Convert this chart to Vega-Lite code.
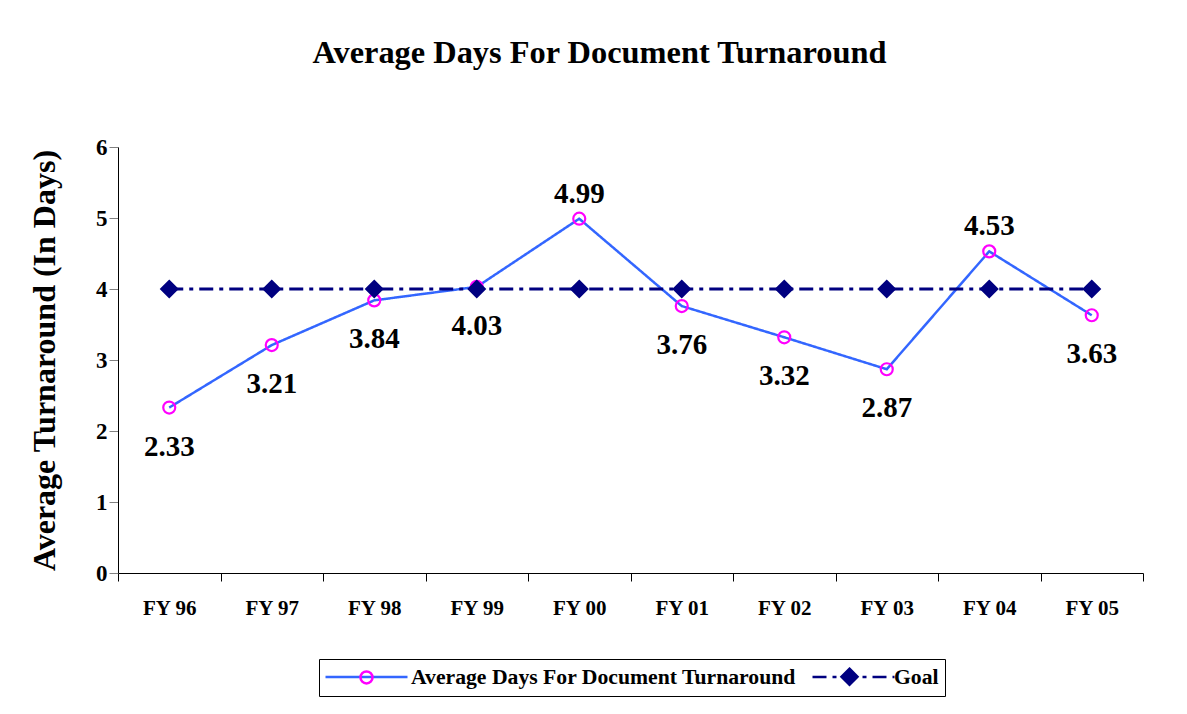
{
  "$schema": "https://vega.github.io/schema/vega-lite/v6.json",
  "width": 1025,
  "height": 426,
  "autosize": {"type": "none"},
  "padding": {"left": 118, "top": 147, "right": 44, "bottom": 141},
  "background": "white",
  "config": {
    "view": {"stroke": null},
    "font": "Liberation Serif",
    "axisY": {"labelFontSize": 23, "labelFontWeight": "bold", "labelFont": "Liberation Serif"},
    "axisX": {"labelFontSize": 21, "labelFontWeight": "bold", "labelFont": "Liberation Serif"}
  },
  "title": {
    "text": "Average Days For Document Turnaround",
    "font": "Liberation Serif",
    "fontSize": 32.4,
    "fontWeight": "bold",
    "color": "#000000",
    "anchor": "middle",
    "frame": "group",
    "dx": -31,
    "baseline": "alphabetic",
    "offset": 41
  },
  "data": {
    "values": [
      {"fy": "FY 96", "series": "Average Days For Document Turnaround", "value": 2.33},
      {"fy": "FY 97", "series": "Average Days For Document Turnaround", "value": 3.21},
      {"fy": "FY 98", "series": "Average Days For Document Turnaround", "value": 3.84},
      {"fy": "FY 99", "series": "Average Days For Document Turnaround", "value": 4.03},
      {"fy": "FY 00", "series": "Average Days For Document Turnaround", "value": 4.99},
      {"fy": "FY 01", "series": "Average Days For Document Turnaround", "value": 3.76},
      {"fy": "FY 02", "series": "Average Days For Document Turnaround", "value": 3.32},
      {"fy": "FY 03", "series": "Average Days For Document Turnaround", "value": 2.87},
      {"fy": "FY 04", "series": "Average Days For Document Turnaround", "value": 4.53},
      {"fy": "FY 05", "series": "Average Days For Document Turnaround", "value": 3.63},
      {"fy": "FY 96", "series": "Goal", "value": 4},
      {"fy": "FY 97", "series": "Goal", "value": 4},
      {"fy": "FY 98", "series": "Goal", "value": 4},
      {"fy": "FY 99", "series": "Goal", "value": 4},
      {"fy": "FY 00", "series": "Goal", "value": 4},
      {"fy": "FY 01", "series": "Goal", "value": 4},
      {"fy": "FY 02", "series": "Goal", "value": 4},
      {"fy": "FY 03", "series": "Goal", "value": 4},
      {"fy": "FY 04", "series": "Goal", "value": 4},
      {"fy": "FY 05", "series": "Goal", "value": 4}
    ]
  },
  "encoding": {
    "x": {
      "field": "fy",
      "type": "nominal",
      "sort": null,
      "scale": {"type": "band", "paddingInner": 0, "paddingOuter": 0},
      "axis": {
        "title": null,
        "labelAngle": 0,
        "labelFont": "Liberation Serif",
        "labelFontSize": 21,
        "labelFontWeight": "bold",
        "labelColor": "#000000",
        "labelBaseline": "alphabetic",
        "labelPadding": 33,
        "tickBand": "extent",
        "tickSize": 8,
        "tickColor": "#000000",
        "domainColor": "#000000",
        "grid": false
      }
    },
    "y": {
      "field": "value",
      "type": "quantitative",
      "scale": {"domain": [0, 6], "nice": false, "zero": true},
      "axis": {
        "values": [0, 1, 2, 3, 4, 5, 6],
        "grid": false,
        "labelFont": "Liberation Serif",
        "labelFontSize": 23,
        "labelFontWeight": "bold",
        "labelColor": "#000000",
        "labelPadding": 2,
        "tickSize": 9,
        "tickColor": "#808080",
        "domainColor": "#000000",
        "title": "Average Turnaround (In Days)",
        "titleFont": "Liberation Serif",
        "titleFontSize": 32,
        "titleFontWeight": "bold",
        "titleColor": "#000000",
        "titleAngle": 270,
        "titleBaseline": "alphabetic",
        "titleX": -64,
        "titleY": 213
      }
    }
  },
  "layer": [
    {
      "transform": [{"filter": "datum.series === 'Average Days For Document Turnaround'"}],
      "mark": {"type": "line", "strokeWidth": 2.5},
      "encoding": {
        "color": {
          "field": "series",
          "type": "nominal",
          "scale": {"domain": ["Average Days For Document Turnaround", "Goal"], "range": ["#3366FF", "#000080"]},
          "legend": {
            "title": null,
            "orient": "none",
            "legendX": 201,
            "legendY": 512,
            "direction": "horizontal",
            "symbolType": "M-4.1,0 L4.1,0",
            "symbolSize": 400,
            "symbolStrokeWidth": 2.5,
            "symbolOffset": 30,
            "labelExpr": "''",
            "labelFont": "Liberation Serif",
            "labelFontSize": 21.7,
            "labelFontWeight": "bold",
            "labelColor": "#000000",
            "labelLimit": 1000,
            "labelOffset": 63,
            "columnPadding": 366,
            "padding": 6,
            "strokeColor": null,
            "fillColor": null
          }
        },
        "strokeDash": {
          "field": "series",
          "type": "nominal",
          "scale": {"domain": ["Average Days For Document Turnaround", "Goal"], "range": [[1, 0], [14, 6, 4, 6]]}
        }
      }
    },
    {
      "transform": [{"filter": "datum.series === 'Goal'"}],
      "mark": {"type": "line", "strokeWidth": 3},
      "encoding": {
        "color": {
          "field": "series",
          "type": "nominal",
          "scale": {"domain": ["Average Days For Document Turnaround", "Goal"], "range": ["#3366FF", "#000080"]}
        },
        "strokeDash": {
          "field": "series",
          "type": "nominal",
          "scale": {"domain": ["Average Days For Document Turnaround", "Goal"], "range": [[1, 0], [14, 6, 4, 6]]}
        }
      }
    },
    {
      "mark": {"type": "point", "size": 400, "strokeWidth": 2.2, "opacity": 1},
      "encoding": {
        "shape": {
          "field": "series",
          "type": "nominal",
          "scale": {"range": ["M-0.6,0 A0.6,0.6 0 1,0 0.6,0 A0.6,0.6 0 1,0 -0.6,0 Z", "M0,-0.8 L0.8,0 L0,0.8 L-0.8,0 Z"]},
          "legend": {
            "title": null,
            "orient": "none",
            "legendX": 201,
            "legendY": 512,
            "direction": "horizontal",
            "symbolSize": 400,
            "symbolStrokeWidth": 2.5,
            "symbolOffset": 30,
            "labelFont": "Liberation Serif",
            "labelFontSize": 21.7,
            "labelFontWeight": "bold",
            "labelColor": "#000000",
            "labelLimit": 1000,
            "labelOffset": 33,
            "columnPadding": 11,
            "padding": 6,
            "strokeColor": "#000000",
            "fillColor": null
          }
        },
        "stroke": {
          "field": "series",
          "type": "nominal",
          "scale": {"range": ["#FF00FF", "#000080"]}
        },
        "fill": {
          "field": "series",
          "type": "nominal",
          "scale": {"range": ["transparent", "#000080"]}
        }
      }
    },
    {
      "transform": [{"filter": "datum.series === 'Average Days For Document Turnaround' && datum.fy !== 'FY 00' && datum.fy !== 'FY 04'"}],
      "mark": {"type": "text", "font": "Liberation Serif", "fontSize": 29, "fontWeight": "bold", "color": "#000000", "baseline": "alphabetic", "align": "center", "dy": 48},
      "encoding": {"text": {"field": "value", "type": "quantitative", "format": ".2f"}}
    },
    {
      "transform": [{"filter": "datum.series === 'Average Days For Document Turnaround' && (datum.fy === 'FY 00' || datum.fy === 'FY 04')"}],
      "mark": {"type": "text", "font": "Liberation Serif", "fontSize": 29, "fontWeight": "bold", "color": "#000000", "baseline": "alphabetic", "align": "center", "dy": -16},
      "encoding": {"text": {"field": "value", "type": "quantitative", "format": ".2f"}}
    }
  ]
}
